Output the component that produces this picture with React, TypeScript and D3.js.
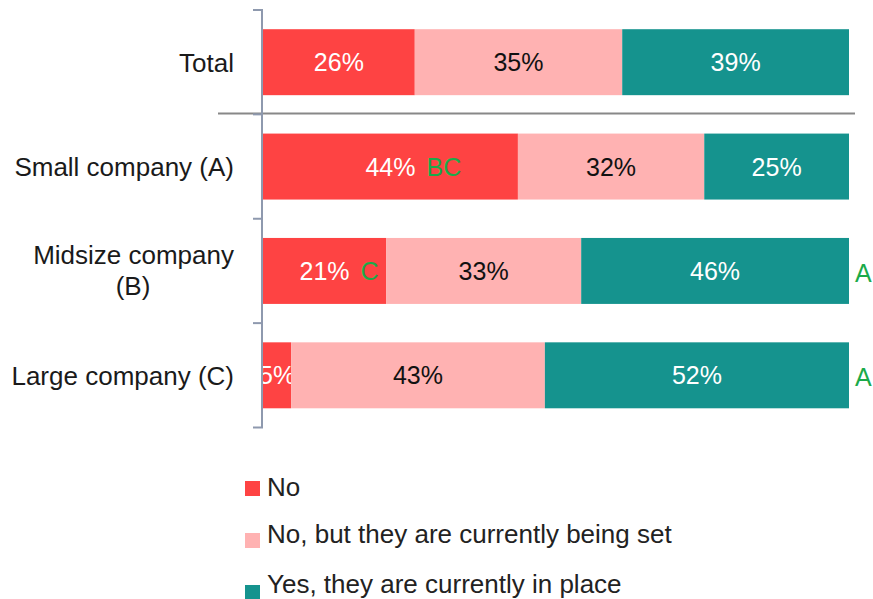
import React from "react";
import * as d3 from "d3";

const categories = ["Total", "Small company (A)", "Midsize company (B)", "Large company (C)"];
const categoryLines = [["Total"], ["Small company (A)"], ["Midsize company", "(B)"], ["Large company (C)"]];
const seriesNames = ["No", "No, but they are currently being set", "Yes, they are currently in place"];
const noValues = [25.9, 43.5, 21.0, 4.8];
const beingSetValues = [35.4, 31.8, 33.3, 43.3];
const yesValues = [38.7, 24.7, 45.7, 51.9];
const labelNo = ["26%", "44%", "21%", "5%"];
const labelBeingSet = ["35%", "32%", "33%", "43%"];
const labelYes = ["39%", "25%", "46%", "52%"];
const sigNo = ["", "BC", "C", ""];
const sigYes = ["", "", "A", "A"];

const colors = ["#FE4343", "#FFB2B2", "#15938E"];
const textColors = ["#ffffff", "#111111", "#ffffff"];

export default function App() {
  const W = 873, H = 599;
  const x = d3.scaleLinear().domain([0, 100]).range([263, 849]);
  const y = d3.scaleBand<string>().domain(categories).range([10, 427.5]).paddingInner(0.368).paddingOuter(0.184);
  const step = y.step();
  const values = [noValues, beingSetValues, yesValues];
  const labels = [labelNo, labelBeingSet, labelYes];
  const font = "Liberation Sans, Arial, sans-serif";
  const tickYs = d3.range(categories.length + 1).map((i) => 10 + i * step);

  return (
    <svg width={W} height={H} style={{ position: "absolute", left: 0, top: 0, background: "#fff" }} fontFamily={font}>
      <defs>
        <clipPath id="plotClip">
          <rect x={263} y={0} width={600} height={440} />
        </clipPath>
      </defs>
      {categories.map((c, ci) => {
        let acc = 0;
        const y0 = y(c)!;
        const bh = y.bandwidth();
        const cy = y0 + bh / 2;
        return (
          <g key={c}>
            {values.map((vals, si) => {
              const start = acc;
              acc += vals[ci];
              const x0 = x(start), x1 = x(acc);
              const cx = (x0 + x1) / 2;
              const fs = 25;
              return (
                <g key={si}>
                  <rect x={x0} y={y0} width={x1 - x0} height={bh} fill={colors[si]} />
                  <text x={cx} y={cy} dy="0.36em" textAnchor="middle" fontSize={fs} fill={textColors[si]} clipPath="url(#plotClip)">
                    {labels[si][ci]}
                  </text>
                  {si === 0 && sigNo[ci] && (
                    <text x={cx + fs * 1.0 + 11} y={cy} dy="0.36em" fontSize={fs} fill="#1BAA4A">
                      {sigNo[ci]}
                    </text>
                  )}
                </g>
              );
            })}
            {sigYes[ci] && (
              <text x={855} y={cy + 2} dy="0.36em" fontSize={25} fill="#1BAA4A">
                {sigYes[ci]}
              </text>
            )}
            {categoryLines[ci].length === 1 ? (
              <text x={234} y={cy} dy="0.36em" textAnchor="end" fontSize={26} fill="#1a1a1a">
                {categoryLines[ci][0]}
              </text>
            ) : (
              <g>
                <text x={234} y={cy - 16} dy="0.36em" textAnchor="end" fontSize={26} fill="#1a1a1a">
                  {categoryLines[ci][0]}
                </text>
                <text x={133} y={cy + 15} dy="0.36em" textAnchor="middle" fontSize={26} fill="#1a1a1a">
                  {categoryLines[ci][1]}
                </text>
              </g>
            )}
          </g>
        );
      })}
      {/* separator */}
      <line x1={218} x2={855} y1={113.5} y2={113.5} stroke="#888" strokeWidth={2} />
      {/* axis */}
      <line x1={262} x2={262} y1={tickYs[0]} y2={tickYs[tickYs.length - 1]} stroke="#8E99AE" strokeWidth={2} />
      {tickYs.map((ty, i) => (
        <line key={i} x1={253} x2={263} y1={ty} y2={ty} stroke="#8E99AE" strokeWidth={2} />
      ))}
      {/* legend */}
      {seriesNames.map((s, i) => {
        const sqY = [481, 533, 585][i];
        const tY = [496, 543, 593][i];
        return (
          <g key={s}>
            <rect x={245} y={sqY} width={15} height={15} fill={colors[i]} />
            <text x={267} y={tY} fontSize={26} fill="#222">
              {s}
            </text>
          </g>
        );
      })}
    </svg>
  );
}
